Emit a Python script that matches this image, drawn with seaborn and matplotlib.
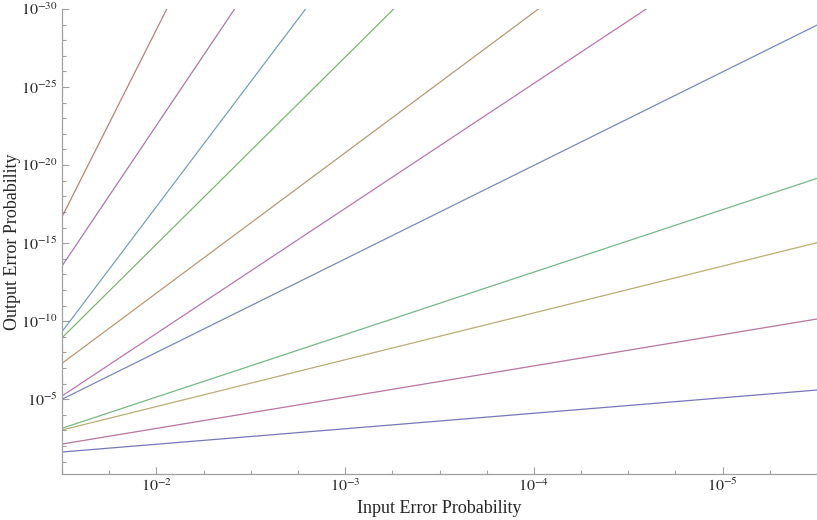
import matplotlib
matplotlib.use('Agg')
import numpy as np
import pandas as pd
import matplotlib.pyplot as plt
import matplotlib.ticker as mticker
import seaborn as sns

# each curve is a straight line on log-log axes: start point (left edge) and end point
series = ['k24', 'k18', 'k16', 'k12', 'k9', 'k8', 'k6', 'k4', 'k3', 'k2', 'k1']
x_start = [3.16e-2] * 11
y_start = [2.04e-17, 2.88e-14, 4.68e-10, 1.15e-9, 5.0e-8, 6.17e-6,
           1.0e-5, 7.24e-4, 9.33e-4, 7.41e-3, 2.4e-2]
x_end = [8.81e-3, 3.85e-3, 1.62e-3, 5.53e-4, 9.46e-5, 2.54e-5,
         3.16e-6, 3.16e-6, 3.16e-6, 3.16e-6, 3.16e-6]
y_end = [1e-30, 1e-30, 1e-30, 1e-30, 1e-30, 1e-30,
         1.07e-29, 7.08e-20, 9.33e-16, 7.24e-11, 2.57e-6]

xtick_labels = [r'$10^{-2}$', r'$10^{-3}$', r'$10^{-4}$', r'$10^{-5}$']
ytick_labels = [r'$10^{-5}$', r'$10^{-10}$', r'$10^{-15}$', r'$10^{-20}$',
                r'$10^{-25}$', r'$10^{-30}$']

colors = ['#994e3d', '#843d99', '#3d7999', '#439930', '#996d3d', '#993d90',
          '#3d5a99', '#3d9956', '#998c3d', '#993d71', '#3f3d99']

rows = []
for s, xa, ya, xb, yb in zip(series, x_start, y_start, x_end, y_end):
    rows.append((s, xa, ya))
    rows.append((s, xb, yb))
df = pd.DataFrame(rows, columns=['series', 'p_in', 'p_out'])

sns.set_style('white')
plt.rcParams['font.family'] = ['Liberation Serif', 'DejaVu Serif']
plt.rcParams['mathtext.fontset'] = 'stix'

fig = plt.figure(figsize=(8.17, 5.2), dpi=100)
ax = fig.add_axes([62 / 817, 46 / 520, 755 / 817, 465 / 520])

sns.lineplot(data=df, x='p_in', y='p_out', hue='series', palette=colors,
             hue_order=series, legend=False, linewidth=0.9, alpha=0.7, ax=ax)

ax.set_xscale('log')
ax.set_yscale('log')
ax.set_xlim(10 ** -1.5, 10 ** -5.5)
ax.set_ylim(10 ** -0.21, 1e-30)

ax.set_xticks([1e-2, 1e-3, 1e-4, 1e-5])
ax.set_xticklabels(xtick_labels)
ax.xaxis.set_minor_locator(mticker.FixedLocator(
    [10 ** (-1.5 - 0.25 * i) for i in range(17) if i % 4 != 2]))
ax.xaxis.set_minor_formatter(mticker.NullFormatter())

ax.set_yticks([1e-5, 1e-10, 1e-15, 1e-20, 1e-25, 1e-30])
ax.set_yticklabels(ytick_labels)
ax.yaxis.set_minor_locator(mticker.FixedLocator([10.0 ** -i for i in range(1, 31) if i % 5 != 0]))
ax.yaxis.set_minor_formatter(mticker.NullFormatter())

for sp in ['top', 'right']:
    ax.spines[sp].set_visible(False)
for sp in ['left', 'bottom']:
    ax.spines[sp].set_color('#a0a0a0')
    ax.spines[sp].set_linewidth(0.9)
ax.tick_params(which='major', direction='in', length=5, width=0.8, color='#a0a0a0',
               labelsize=11.5, pad=3, left=True, bottom=True)
ax.tick_params(which='minor', direction='in', length=3, width=0.8, color='#a0a0a0',
               left=True, bottom=True)

ax.set_xlabel('Input Error Probability', fontsize=13, labelpad=3)
ax.set_ylabel('Output Error Probability', fontsize=13)
ax.yaxis.set_label_coords(-0.054, 0.5)

fig.savefig('out.png', dpi=100)
